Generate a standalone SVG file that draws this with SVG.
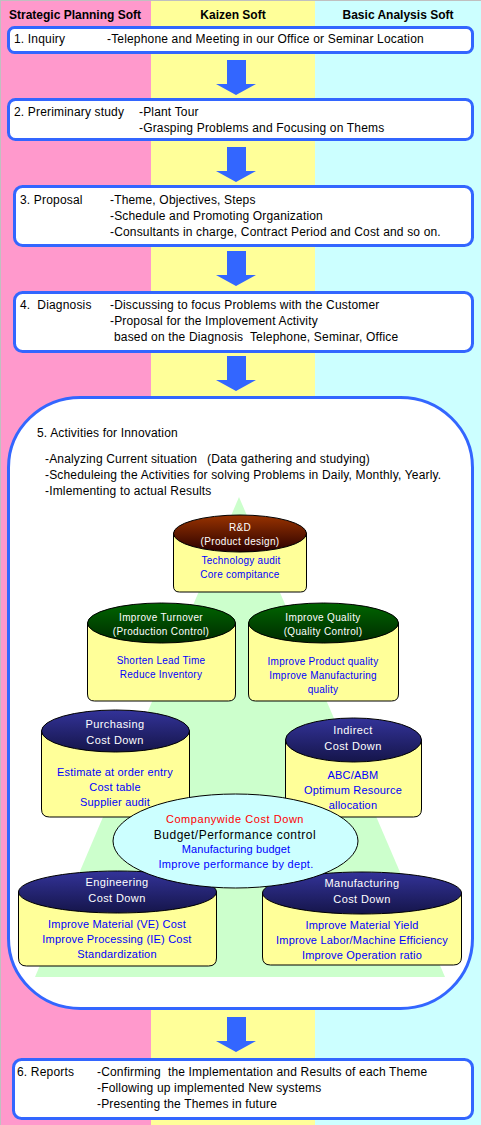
<svg xmlns="http://www.w3.org/2000/svg" width="481" height="1125" viewBox="0 0 481 1125">
<defs>
<linearGradient id="gBrown" x1="0" y1="0" x2="0" y2="1"><stop offset="0" stop-color="#993300"/><stop offset="1" stop-color="#2a0000"/></linearGradient>
<linearGradient id="gGreen" x1="0" y1="0" x2="0" y2="1"><stop offset="0" stop-color="#006600"/><stop offset="1" stop-color="#002a00"/></linearGradient>
<linearGradient id="gNavy" x1="0" y1="0" x2="0" y2="1"><stop offset="0" stop-color="#333399"/><stop offset="1" stop-color="#15154a"/></linearGradient>
</defs>
<style>
text{font-family:"Liberation Sans",Arial,sans-serif;white-space:pre}
.hd{font-size:12px;font-weight:bold;text-anchor:middle;fill:#000}
.box{fill:#fff;stroke:#3366FF;stroke-width:3}
.t{font-size:12px;fill:#000;letter-spacing:0.17px}
.body{fill:#FFFF99;stroke:#000;stroke-width:1}
.top{stroke:#000;stroke-width:1}
.w10{font-size:10px;fill:#fff;text-anchor:middle;letter-spacing:0.35px}
.b10{font-size:10px;fill:#0000FF;text-anchor:middle;letter-spacing:0.25px}
.w11{font-size:11px;fill:#fff;text-anchor:middle;letter-spacing:0.4px}
.b11{font-size:11px;fill:#0000FF;text-anchor:middle;letter-spacing:0.2px}
.arrow{fill:#3366FF}
</style>
<g id="background">
<rect x="0" y="0" width="151" height="1125" fill="#FF99CC"/>
<rect x="151" y="0" width="164" height="1125" fill="#FFFF99"/>
<rect x="315" y="0" width="166" height="1125" fill="#CCFFFF"/>
<line x1="0" y1="0.5" x2="481" y2="0.5" stroke="#C0C0C0"/>
<line x1="0.5" y1="0" x2="0.5" y2="1125" stroke="#C0C0C0"/>
<text class="hd" x="75" y="19">Strategic Planning Soft</text>
<text class="hd" x="233" y="19">Kaizen Soft</text>
<text class="hd" x="398" y="19">Basic Analysis Soft</text>
</g>
<g id="connectors">
<path class="arrow" d="M227,60 H246 V84 H256 L236,95 L216,84 H227 Z"/>
<path class="arrow" d="M227,147 H246 V171 H256 L236,182 L216,171 H227 Z"/>
<path class="arrow" d="M227,251 H246 V275 H256 L236,286 L216,275 H227 Z"/>
<path class="arrow" d="M227,356 H246 V380 H256 L236,391 L216,380 H227 Z"/>
<path class="arrow" d="M227,1017 H246 V1041 H256 L236,1052 L216,1041 H227 Z"/>
</g>
<g id="step1">
<rect class="box" x="8.5" y="27.5" width="464" height="25" rx="6"/>
<text class="t" x="14" y="43">1. Inquiry</text>
<text class="t" x="107" y="43">-Telephone and Meeting in our Office or Seminar Location</text>
</g>
<g id="step2">
<rect class="box" x="8.5" y="99.5" width="464" height="40" rx="7"/>
<text class="t" x="14" y="116">2. Preriminary study</text>
<text class="t" x="139" y="116">-Plant Tour</text>
<text class="t" x="139" y="132">-Grasping Problems and Focusing on Thems</text>
</g>
<g id="step3">
<rect class="box" x="14.5" y="186.5" width="458" height="59" rx="8"/>
<text class="t" x="20" y="204">3. Proposal</text>
<text class="t" x="110" y="204">-Theme, Objectives, Steps</text>
<text class="t" x="110" y="220">-Schedule and Promoting Organization</text>
<text class="t" x="110" y="236">-Consultants in charge, Contract Period and Cost and so on.</text>
</g>
<g id="step4">
<rect class="box" x="14.5" y="292.5" width="458" height="59" rx="8"/>
<text class="t" x="20" y="309">4.  Diagnosis</text>
<text class="t" x="110" y="309">-Discussing to focus Problems with the Customer</text>
<text class="t" x="110" y="325">-Proposal for the Implovement Activity</text>
<text class="t" x="114" y="341">based on the Diagnosis  Telephone, Seminar, Office</text>
</g>
<g id="step5">
<rect class="box" x="8.5" y="397.5" width="464" height="611" rx="72" ry="70"/>
<text class="t" x="37" y="437">5. Activities for Innovation</text>
<text class="t" x="45" y="463">-Analyzing Current situation</text>
<text class="t" x="207" y="463">(Data gathering and studying)</text>
<text class="t" x="45" y="479">-Scheduleing the Activities for solving Problems in Daily, Monthly, Yearly.</text>
<text class="t" x="45" y="495">-Imlementing to actual Results</text>
<polygon points="239,497 445,977 35,977" fill="#CCFFCC"/>
</g>
<g id="rnd">
<path class="body" d="M173.5,533 V586 Q173.5,592 179.5,592 H300.5 Q306.5,592 306.5,586 V533 Z"/>
<ellipse class="top" cx="240" cy="533.5" rx="66.5" ry="18.5" fill="url(#gBrown)"/>
<text class="w10" x="240" y="531">R&amp;D</text>
<text class="w10" x="240" y="545">(Product design)</text>
<text class="b10" x="241" y="564">Technology audit</text>
<text class="b10" x="240" y="578">Core compitance</text>
</g>
<g id="turnover">
<path class="body" d="M87.5,623 V694 Q87.5,701 94.5,701 H228.5 Q235.5,701 235.5,694 V623 Z"/>
<ellipse class="top" cx="161.5" cy="623" rx="74" ry="20" fill="url(#gGreen)"/>
<text class="w10" x="161" y="621">Improve Turnover</text>
<text class="w10" x="161" y="635">(Production Control)</text>
<text class="b10" x="161" y="664">Shorten Lead Time</text>
<text class="b10" x="161" y="678">Reduce Inventory</text>
</g>
<g id="quality">
<path class="body" d="M248.5,623 V694 Q248.5,701 255.5,701 H391.5 Q398.5,701 398.5,694 V623 Z"/>
<ellipse class="top" cx="323.5" cy="623" rx="75" ry="20" fill="url(#gGreen)"/>
<text class="w10" x="323" y="621">Improve Quality</text>
<text class="w10" x="323" y="635">(Quality Control)</text>
<text class="b10" x="323" y="665">Improve Product quality</text>
<text class="b10" x="323" y="679">Improve Manufacturing</text>
<text class="b10" x="323" y="693">quality</text>
</g>
<g id="purchasing">
<path class="body" d="M41.5,731 V809 Q41.5,817 49.5,817 H181.5 Q189.5,817 189.5,809 V731 Z"/>
<ellipse class="top" cx="115.5" cy="731" rx="74" ry="21" fill="url(#gNavy)"/>
<text class="w11" x="115" y="728">Purchasing</text>
<text class="w11" x="115" y="744">Cost Down</text>
<text class="b11" x="115" y="776">Estimate at order entry</text>
<text class="b11" x="115" y="791">Cost table</text>
<text class="b11" x="115" y="806">Supplier audit</text>
</g>
<g id="indirect">
<path class="body" d="M285.5,740 V809 Q285.5,817 293.5,817 H413.5 Q421.5,817 421.5,809 V740 Z"/>
<ellipse class="top" cx="353.5" cy="740" rx="68" ry="22" fill="url(#gNavy)"/>
<text class="w11" x="353" y="734">Indirect</text>
<text class="w11" x="353" y="750">Cost Down</text>
<text class="b11" x="353" y="779">ABC/ABM</text>
<text class="b11" x="353" y="794">Optimum Resource</text>
<text class="b11" x="353" y="809">allocation</text>
</g>
<g id="engineering">
<path class="body" d="M18.5,892 V958 Q18.5,966 26.5,966 H208.5 Q216.5,966 216.5,958 V892 Z"/>
<ellipse class="top" cx="117.5" cy="892" rx="99" ry="21" fill="url(#gNavy)"/>
<text class="w11" x="117" y="886">Engineering</text>
<text class="w11" x="117" y="902">Cost Down</text>
<text class="b11" x="117" y="928">Improve Material (VE) Cost</text>
<text class="b11" x="117" y="943">Improve Processing (IE) Cost</text>
<text class="b11" x="117" y="958">Standardization</text>
</g>
<g id="manufacturing">
<path class="body" d="M262.5,893 V957 Q262.5,965 270.5,965 H453.5 Q461.5,965 461.5,957 V893 Z"/>
<ellipse class="top" cx="362" cy="893" rx="99.5" ry="21" fill="url(#gNavy)"/>
<text class="w11" x="362" y="887">Manufacturing</text>
<text class="w11" x="362" y="903">Cost Down</text>
<text class="b11" x="362" y="929">Improve Material Yield</text>
<text class="b11" x="362" y="944">Improve Labor/Machine Efficiency</text>
<text class="b11" x="362" y="959">Improve Operation ratio</text>
</g>
<g id="companywide">
<ellipse cx="235.5" cy="841" rx="122.5" ry="47" fill="#CCFFFF" stroke="#000" stroke-width="1"/>
<text x="235" y="823" style="font-size:11px;fill:#FF0000;text-anchor:middle;letter-spacing:0.55px">Companywide Cost Down</text>
<text x="235" y="839" style="font-size:12px;fill:#000;text-anchor:middle;letter-spacing:0.5px">Budget/Performance control</text>
<text x="236" y="853" style="font-size:11px;fill:#0000FF;text-anchor:middle;letter-spacing:0.1px">Manufacturing budget</text>
<text x="236" y="868" style="font-size:11px;fill:#0000FF;text-anchor:middle;letter-spacing:0.3px">Improve performance by dept.</text>
</g>
<g id="step6">
<rect class="box" x="13.5" y="1059.5" width="459" height="59" rx="8"/>
<text class="t" x="17" y="1076">6. Reports</text>
<text class="t" x="97" y="1076">-Confirming  the Implementation and Results of each Theme</text>
<text class="t" x="97" y="1092">-Following up implemented New systems</text>
<text class="t" x="97" y="1108">-Presenting the Themes in future</text>
</g>
</svg>
